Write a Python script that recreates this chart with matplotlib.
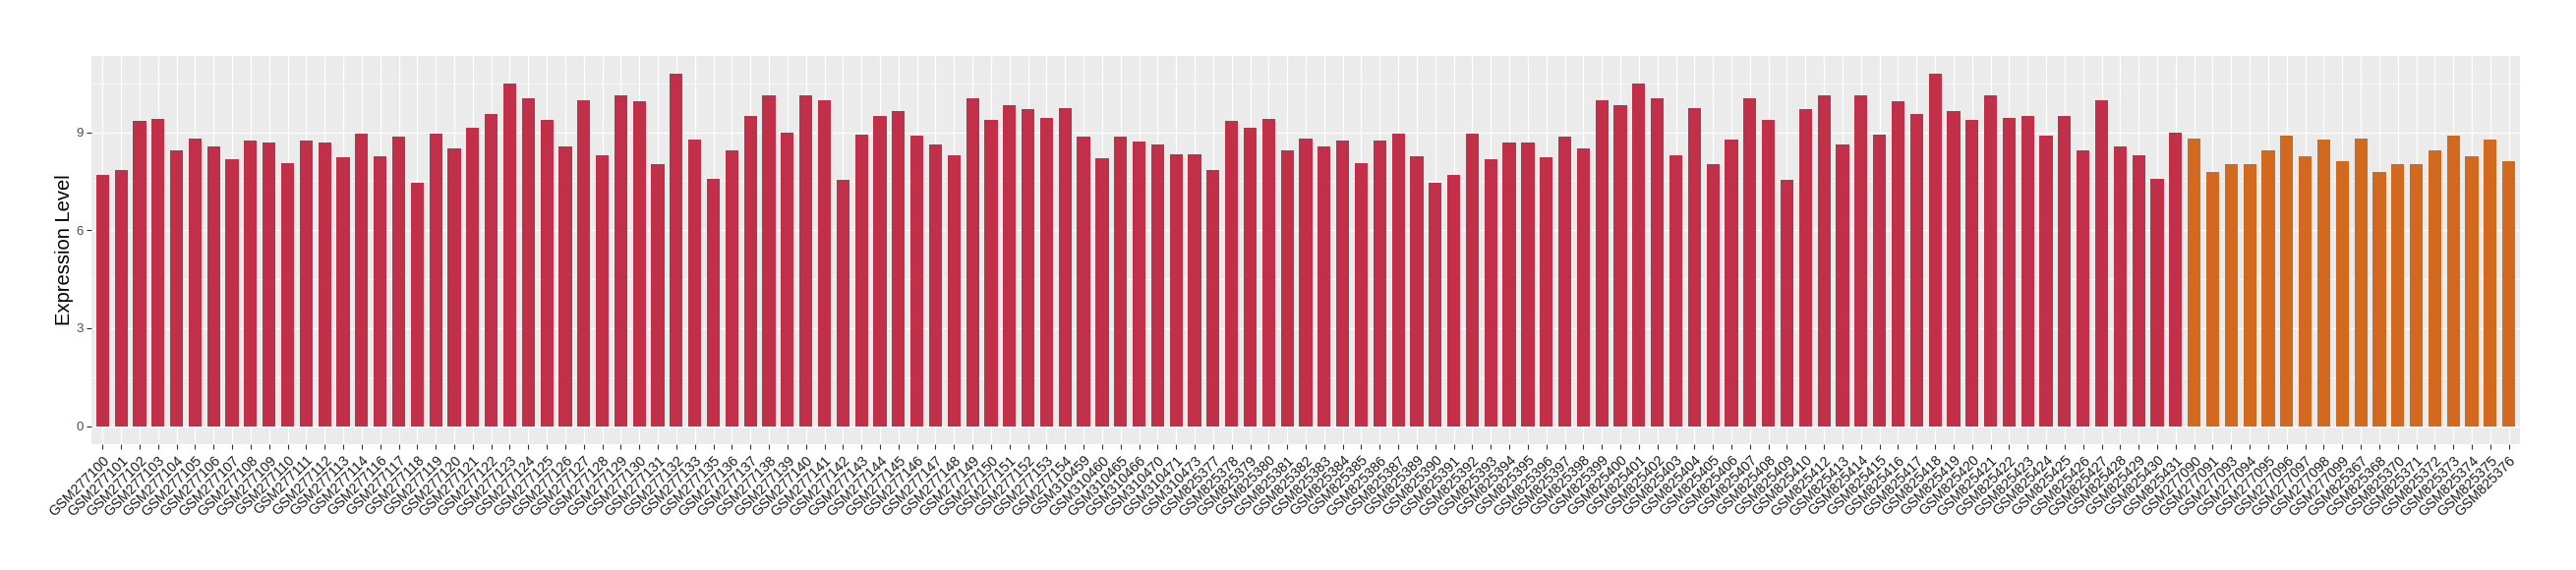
import matplotlib
matplotlib.use("Agg")
import matplotlib.pyplot as plt
import numpy as np

samples = (
    ["GSM2771%02d" % i for i in range(0, 15)]
    + ["GSM2771%02d" % i for i in range(16, 34)]
    + ["GSM2771%02d" % i for i in range(35, 55)]
    + ["GSM310459", "GSM310460", "GSM310465", "GSM310466", "GSM310470", "GSM310471", "GSM310473"]
    + ["GSM825%d" % i for i in range(377, 388)]
    + ["GSM825%d" % i for i in range(389, 411)]
    + ["GSM825%d" % i for i in range(412, 432)]
    + ["GSM277090", "GSM277091", "GSM277093", "GSM277094", "GSM277095", "GSM277096",
       "GSM277097", "GSM277098", "GSM277099"]
    + ["GSM825367", "GSM825368", "GSM825370", "GSM825371", "GSM825372", "GSM825373",
       "GSM825374", "GSM825375", "GSM825376"]
)

values = [
    7.70, 7.85, 9.35, 9.41, 8.45, 8.81, 8.57, 8.18, 8.75, 8.69,
    8.06, 8.75, 8.69, 8.24, 8.96, 8.27, 8.87, 7.46, 8.96, 8.51,
    9.14, 9.56, 10.49, 10.04, 9.38, 8.57, 9.98, 8.30, 10.13, 9.95,
    8.03, 10.79, 8.78, 7.58, 8.45, 9.50, 10.13, 8.99, 10.13, 9.98,
    7.55, 8.93, 9.50, 9.65, 8.90, 8.63, 8.30, 10.04, 9.38, 9.83,
    9.71, 9.44, 9.74, 8.87, 8.21, 8.87, 8.72, 8.63, 8.33, 8.33,
    7.85, 9.35, 9.14, 9.41, 8.45, 8.81, 8.57, 8.75, 8.06, 8.75,
    8.96, 8.27, 7.46, 7.70, 8.96, 8.18, 8.69, 8.69, 8.24, 8.87,
    8.51, 9.98, 9.83, 10.49, 10.04, 8.30, 9.74, 8.03, 8.78, 10.04,
    9.38, 7.55, 9.71, 10.13, 8.63, 10.13, 8.93, 9.95, 9.56, 10.79,
    9.65, 9.38, 10.13, 9.44, 9.50, 8.90, 9.50, 8.45, 9.98, 8.57,
    8.30, 7.58, 8.99,
    8.81, 7.79, 8.03, 8.03, 8.45, 8.90, 8.27, 8.78, 8.12, 8.81,
    7.79, 8.03, 8.03, 8.45, 8.90, 8.27, 8.78, 8.12,
]

groups = ["A"] * 113 + ["B"] * 18
group_colors = {"A": "#C13048", "B": "#D2691E"}

y_ticks = [0, 3, 6, 9]
y_label = "Expression Level"

plt.rcParams["font.family"] = ["Liberation Sans", "DejaVu Sans"]

fig = plt.figure(figsize=(26.2, 5.8), dpi=100)
ax = fig.add_axes([93 / 2620, 1 - 451.7 / 580, (2563 - 93) / 2620, (451.7 - 56.7) / 580])

x = np.arange(len(samples))
colors = [group_colors[g] for g in groups]
ax.bar(x, values, width=0.7, color=colors, zorder=3)

ax.set_facecolor("#EBEBEB")
for s in ax.spines.values():
    s.set_visible(False)

ax.set_xlim(-0.6, len(samples) - 1 + 0.6)
ax.set_ylim(-0.54, 11.34)
ax.set_yticks(y_ticks)
ax.set_yticks([1.5, 4.5, 7.5, 10.5], minor=True)
ax.set_xticks(x)
ax.set_xticklabels(samples, rotation=45, ha="right", va="top", rotation_mode="anchor",
                   fontsize=10.3, color="#1A1A1A")
ax.tick_params(axis="y", labelsize=9.5, labelcolor="#4D4D4D", color="#333333",
               length=3.8, width=0.8, pad=2)
ax.tick_params(axis="x", color="#333333", length=3.8, width=0.8, pad=3)
ax.tick_params(axis="y", which="minor", length=0)

ax.grid(True, which="major", color="white", linewidth=0.9, zorder=0)
ax.grid(True, which="minor", axis="y", color="white", linewidth=0.45, zorder=0)
ax.set_axisbelow(True)

ax.set_ylabel(y_label, fontsize=14.5, color="black")
ax.yaxis.set_label_coords(-0.0113, 0.5)
ax.yaxis.label.set_verticalalignment("center")

fig.savefig("out.png", dpi=100, facecolor="white")
